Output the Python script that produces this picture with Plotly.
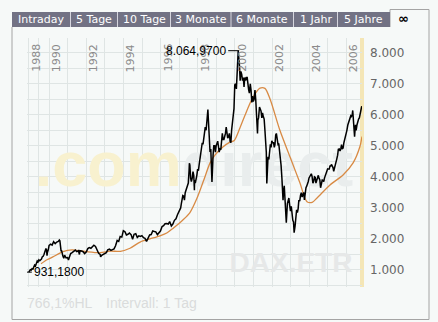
import plotly.graph_objects as go
import pandas as pd

# ---------------- data ----------------
dax_dates = [
 "1988-01-04","1988-01-29","1988-02-29","1988-03-31","1988-04-29","1988-05-31","1988-06-30","1988-07-29","1988-08-31","1988-09-30","1988-10-31","1988-11-30","1988-12-30",
 "1989-01-31","1989-02-28","1989-03-31","1989-04-28","1989-05-31","1989-06-30","1989-07-31","1989-08-31","1989-09-08","1989-09-29","1989-10-16","1989-10-31","1989-11-30","1989-12-29",
 "1990-01-31","1990-02-28","1990-03-30","1990-04-30","1990-05-31","1990-06-29","1990-07-20","1990-07-31","1990-08-24","1990-08-31","1990-09-28","1990-10-15","1990-10-31","1990-11-30","1990-12-28",
 "1991-01-16","1991-01-31","1991-02-28","1991-03-28","1991-04-30","1991-05-31","1991-06-28","1991-07-31","1991-08-19","1991-08-30","1991-09-30","1991-10-31","1991-11-29","1991-12-30",
 "1992-01-31","1992-02-28","1992-03-31","1992-04-30","1992-05-29","1992-06-30","1992-07-31","1992-08-31","1992-09-30","1992-10-09","1992-10-30","1992-11-30","1992-12-30",
 "1993-01-29","1993-02-26","1993-03-31","1993-04-30","1993-05-28","1993-06-30","1993-07-30","1993-08-31","1993-09-30","1993-10-29","1993-11-30","1993-12-30",
 "1994-01-31","1994-02-28","1994-03-31","1994-04-29","1994-05-31","1994-06-30","1994-07-29","1994-08-31","1994-09-30","1994-10-31","1994-11-30","1994-12-30",
 "1995-01-31","1995-02-28","1995-03-31","1995-04-28","1995-05-31","1995-06-30","1995-07-31","1995-08-31","1995-09-29","1995-10-31","1995-11-30","1995-12-29",
 "1996-01-31","1996-02-29","1996-03-29","1996-04-30","1996-05-31","1996-06-28","1996-07-31","1996-08-30","1996-09-30","1996-10-31","1996-11-29","1996-12-30",
 "1997-01-15","1997-01-31","1997-02-14","1997-02-28","1997-03-14","1997-03-31","1997-04-15","1997-04-30","1997-05-15","1997-05-30","1997-06-13","1997-06-30","1997-07-15","1997-07-21","1997-07-31","1997-08-15","1997-08-29","1997-09-15","1997-09-30","1997-10-15","1997-10-28","1997-10-31","1997-11-14","1997-11-28","1997-12-15","1997-12-30",
 "1998-01-15","1998-01-30","1998-02-13","1998-02-27","1998-03-13","1998-03-31","1998-04-15","1998-04-30","1998-05-15","1998-05-29","1998-06-15","1998-06-30","1998-07-20","1998-07-31","1998-08-14","1998-08-31","1998-09-15","1998-09-30","1998-10-08","1998-10-30","1998-11-13","1998-11-30","1998-12-15","1998-12-30",
 "1999-01-15","1999-01-29","1999-02-15","1999-02-26","1999-03-15","1999-03-31","1999-04-15","1999-04-30","1999-05-14","1999-05-31","1999-06-15","1999-06-30","1999-07-15","1999-07-30","1999-08-13","1999-08-31","1999-09-15","1999-09-30","1999-10-15","1999-10-29","1999-11-15","1999-11-30","1999-12-15","1999-12-30",
 "2000-01-14","2000-01-31","2000-02-15","2000-02-29","2000-03-07","2000-03-31","2000-04-14","2000-04-28","2000-05-15","2000-05-31","2000-06-15","2000-06-30","2000-07-14","2000-07-31","2000-08-15","2000-08-31","2000-09-15","2000-09-29","2000-10-13","2000-10-31","2000-11-15","2000-11-30","2000-12-15","2000-12-29",
 "2001-01-15","2001-01-31","2001-02-15","2001-02-28","2001-03-15","2001-03-22","2001-03-30","2001-04-12","2001-04-30","2001-05-15","2001-05-31","2001-06-15","2001-06-29","2001-07-13","2001-07-31","2001-08-15","2001-08-31","2001-09-11","2001-09-21","2001-09-28","2001-10-15","2001-10-31","2001-11-15","2001-11-30","2001-12-14","2001-12-28",
 "2002-01-15","2002-01-31","2002-02-15","2002-02-28","2002-03-15","2002-03-28","2002-04-15","2002-04-30","2002-05-15","2002-05-31","2002-06-14","2002-06-28","2002-07-15","2002-07-24","2002-07-31","2002-08-06","2002-08-15","2002-08-30","2002-09-13","2002-09-30","2002-10-09","2002-10-31","2002-11-15","2002-11-29","2002-12-13","2002-12-30",
 "2003-01-15","2003-01-31","2003-02-14","2003-02-28","2003-03-12","2003-03-31","2003-04-15","2003-04-30","2003-05-15","2003-05-30","2003-06-13","2003-06-30","2003-07-15","2003-07-31","2003-08-15","2003-08-29","2003-09-15","2003-09-30","2003-10-15","2003-10-31","2003-11-14","2003-11-28","2003-12-15","2003-12-30",
 "2004-01-15","2004-01-30","2004-02-13","2004-02-27","2004-03-15","2004-03-31","2004-04-15","2004-04-30","2004-05-14","2004-05-31","2004-06-15","2004-06-30","2004-07-15","2004-07-30","2004-08-13","2004-08-31","2004-09-15","2004-09-30","2004-10-15","2004-10-29","2004-11-15","2004-11-30","2004-12-15","2004-12-30",
 "2005-01-14","2005-01-31","2005-02-15","2005-02-28","2005-03-15","2005-03-31","2005-04-15","2005-04-29","2005-05-13","2005-05-31","2005-06-15","2005-06-30","2005-07-15","2005-07-29","2005-08-15","2005-08-31","2005-09-15","2005-09-30","2005-10-14","2005-10-31","2005-11-15","2005-11-30","2005-12-15","2005-12-30",
 "2006-01-13","2006-01-31","2006-02-15","2006-02-28","2006-03-15","2006-03-31","2006-04-13","2006-04-28","2006-05-08","2006-05-31","2006-06-13","2006-06-30","2006-07-14","2006-07-31","2006-08-15","2006-08-31","2006-09-15","2006-09-29","2006-10-13","2006-10-31","2006-11-06",
]
dax_close = [
 931.18,960,1010,1000,1040,1030,1110,1160,1130,1230,1290,1260,1328,
 1300,1330,1350,1420,1440,1500,1570,1640,1690,1640,1460,1560,1650,1790,
 1830,1800,1910,1850,1900,1920,1966,1940,1600,1640,1450,1380,1480,1390,1400,
 1320,1400,1530,1560,1600,1640,1590,1620,1500,1620,1610,1590,1530,1578,
 1690,1720,1700,1750,1800,1760,1640,1540,1500,1420,1470,1510,1545,
 1560,1650,1670,1630,1660,1680,1780,1950,1920,2080,2060,2266,
 2230,2130,2150,2190,2140,1990,2150,2170,2050,2100,2080,2106,
 2040,2020,1920,2010,2130,2140,2260,2240,2230,2140,2200,2254,
 2400,2430,2490,2500,2480,2560,2420,2480,2600,2650,2780,2889,
 2900,3000,3150,3240,3400,3380,3250,3490,3570,3600,3700,3800,4200,4438,4380,3950,3850,3960,4170,4050,3567,3900,3800,3900,4050,4250,
 4200,4400,4550,4700,5000,5100,5050,5200,5350,5600,5500,5900,6171,5800,5300,4800,4900,4470,3833,4700,5000,5000,4800,5002,
 5100,5150,4950,4800,4900,4880,5150,5400,5200,5200,5300,5400,5600,5300,5250,5300,5400,5150,5100,5500,5800,6000,6200,6958,
 7000,6835,7400,7644,8064.97,7600,7100,7400,7300,7100,7200,6900,7200,7100,7200,7200,6900,6800,6700,7000,6800,6400,6600,6433,
 6500,6800,6500,6200,5800,5400,5830,5900,6250,6200,6120,5900,6060,5950,5860,5500,5190,4800,3787,4300,4650,4560,4900,5050,4950,5160,
 5100,5100,4950,5040,5350,5400,5200,5040,5050,4820,4650,4380,3950,3400,3700,3250,3500,3710,3300,2770,2520,3150,3250,3320,3100,2893,
 3050,2750,2600,2550,2203,2420,2800,2940,2850,2980,3250,3220,3400,3490,3350,3480,3500,3260,3550,3650,3700,3750,3850,3965,
 4050,4060,4100,4020,3800,3860,4000,3980,3800,3920,3950,4050,3950,3900,3650,3790,3900,3890,3850,3960,4050,4130,4200,4256,
 4250,4250,4350,4350,4400,4350,4300,4180,4300,4460,4550,4590,4700,4890,4900,4830,4900,5040,4900,4930,5100,5190,5250,5408,
 5500,5670,5750,5800,5900,5970,5950,6010,6140,5690,5292,5680,5500,5680,5800,5860,5900,6000,6100,6270,6250,
]
ma_dates = [
 "1989-03-15","1989-10-15","1990-03-15","1990-10-01","1991-03-25","1991-09-01","1992-01-15","1992-10-01",
 "1993-04-15","1993-11-01","1994-05-10","1994-11-25","1995-06-05","1995-12-20","1996-05-10","1996-09-01",
 "1997-03-15","1997-08-01","1997-12-15","1998-05-01","1998-09-01","1998-12-05","1999-05-10","1999-09-25",
 "1999-12-20","2000-04-15","2000-08-28","2000-12-25","2001-05-10","2001-08-15","2001-11-25","2002-06-05",
 "2002-12-20","2003-07-05","2003-11-20","2004-03-01","2004-06-05","2005-02-15","2005-10-30","2006-05-15",
 "2006-09-25","2006-11-06",
]
ma_values = [
 1200,1330,1420,1590,1645,1620,1590,1560,
 1610,1600,1700,1900,2000,2100,2200,2340,
 2610,2850,3300,3900,4450,4700,4960,5120,
 5170,5600,6150,6570,6860,6850,6500,5500,
 4650,3800,3200,3180,3320,3740,4060,4450,
 4970,5300,
]
tab_labels = ["Intraday", "5 Tage", "10 Tage", "3 Monate", "6 Monate", "1 Jahr", "5 Jahre"]
year_ticks = list(range(1988, 2007))
y_ticks = list(range(500, 8001, 500))

# ---------------- helpers ----------------
W, H = 438, 322
L, R, T, B = 27, 362, 38, 287          # plot area in pixels
PXY = (R - L)

def dec_year(s):
    d = pd.Timestamp(s)
    start = pd.Timestamp(year=d.year, month=1, day=1)
    end = pd.Timestamp(year=d.year + 1, month=1, day=1)
    return d.year + (d - start) / (end - start)

def tpos(y):
    # chart time axis: sparse early data is compressed (index-like axis)
    return y if y >= 1990 else 1990 - (1990 - y) * 0.55

dax_x = [tpos(dec_year(d)) for d in dax_dates]
ma_x = [tpos(dec_year(d)) for d in ma_dates]
x_end = dax_x[-1]
x_start = x_end - PXY / 18.57
y_lo, y_hi = 452, 8474

def px_x(p):
    return (p - L) / (R - L)

def px_y(p):
    return (B - p) / (B - T)

def de(v, nd):
    s = f"{v:,.{nd}f}"
    return s.replace(",", "#").replace(".", ",").replace("#", ".")

vmin = min(dax_close)
vmax = max(dax_close)
i_max = dax_close.index(vmax)
hl_pct = (vmax - vmin) / vmin * 100

bg = "#f6f9f8"
fig = go.Figure()

# watermark (drawn first, under the lines)
fig.add_trace(go.Scatter(
    x=[x_start + (194 - L) / 18.57], y=[y_lo + (B - 170) / (B - T) * (y_hi - y_lo)],
    mode="text", text=["<b>.com<span style='color:#e9eded'>direct</span></b>"],
    textfont=dict(family="Liberation Sans", size=63, color="#f8f1cf"),
    textposition="middle center", hoverinfo="skip", showlegend=False))
fig.add_trace(go.Scatter(
    x=[x_start + (291 - L) / 18.57], y=[y_lo + (B - 265) / (B - T) * (y_hi - y_lo)],
    mode="text", text=["<b>DAX.ETR</b>"],
    textfont=dict(family="Liberation Sans", size=28, color="#e6e8e8"),
    textposition="middle center", hoverinfo="skip", showlegend=False))

fig.add_trace(go.Scatter(x=ma_x, y=ma_values, mode="lines", line=dict(color="#d88a44", width=1.3, shape="spline", smoothing=0.8),
                         hoverinfo="skip", showlegend=False))
fig.add_trace(go.Scatter(x=dax_x, y=dax_close, mode="lines", line=dict(color="#000000", width=1.5),
                         hoverinfo="skip", showlegend=False))

shapes = []
# yellow end line
shapes.append(dict(type="line", xref="paper", yref="paper", x0=1, x1=1, y0=0, y1=1,
                   line=dict(color="#f4e6b6", width=4), layer="between"))
# min / max markers
shapes.append(dict(type="line", xref="x", yref="y", xsizemode="pixel", xanchor=dax_x[0], x0=-5, x1=3,
                   y0=vmin, y1=vmin, line=dict(color="#000", width=1)))
shapes.append(dict(type="line", xref="x", yref="y", xsizemode="pixel", xanchor=dax_x[i_max], x0=-10, x1=1,
                   y0=vmax, y1=vmax, line=dict(color="#000", width=1)))
# frame
fc = "#a4a4a4"
shapes += [
    dict(type="line", xref="paper", yref="paper", x0=px_x(12), x1=px_x(12), y0=px_y(27), y1=px_y(319.5), line=dict(color=fc, width=1)),
    dict(type="line", xref="paper", yref="paper", x0=px_x(12), x1=px_x(429), y0=px_y(319.5), y1=px_y(319.5), line=dict(color=fc, width=1)),
    dict(type="line", xref="paper", yref="paper", x0=px_x(429), x1=px_x(429), y0=px_y(9.5), y1=px_y(319.5), line=dict(color=fc, width=1)),
    dict(type="line", xref="paper", yref="paper", x0=px_x(390), x1=px_x(429), y0=px_y(9.5), y1=px_y(9.5), line=dict(color=fc, width=1)),
    dict(type="line", xref="paper", yref="paper", x0=px_x(390), x1=px_x(390), y0=px_y(9.5), y1=px_y(27), line=dict(color=fc, width=1)),
]
# tab bar
tab_edges = [12, 70.5, 117.5, 170.5, 231, 293.5, 337.5, 390]
shapes.append(dict(type="rect", xref="paper", yref="paper", x0=px_x(12), x1=px_x(390), y0=px_y(27), y1=px_y(12),
                   fillcolor="#727284", line=dict(width=0)))
for e in tab_edges[1:-1]:
    shapes.append(dict(type="line", xref="paper", yref="paper", x0=px_x(e), x1=px_x(e), y0=px_y(27), y1=px_y(12),
                       line=dict(color="#d6d6de", width=1)))

ann = []
for i, lab in enumerate(tab_labels):
    cx = (tab_edges[i] + tab_edges[i + 1]) / 2
    ann.append(dict(xref="paper", yref="paper", x=px_x(cx), y=px_y(19.5), text=lab, showarrow=False,
                    font=dict(family="DejaVu Sans", size=11, color="#ffffff"), xanchor="center", yanchor="middle"))
ann.append(dict(xref="paper", yref="paper", x=px_x(403.5), y=px_y(18.5), text="<b>∞</b>", showarrow=False,
                font=dict(family="DejaVu Sans", size=13, color="#000000"), xanchor="center", yanchor="middle"))
# year labels (inside the plot, rotated)
for yv in year_ticks:
    if yv % 2 == 0:
        ann.append(dict(xref="x", yref="paper", x=tpos(yv), y=1, text=str(yv), textangle=-90, showarrow=False,
                        xanchor="center", yanchor="top", xshift=7, yshift=-4,
                        font=dict(family="DejaVu Sans", size=11, color="#8a8a8a")))
ann.append(dict(xref="x", yref="y", x=dax_x[0], y=vmin, text=de(vmin, 4), showarrow=False, xanchor="left", yanchor="middle",
                xshift=3, font=dict(family="Liberation Sans", size=12, color="#000")))
ann.append(dict(xref="x", yref="y", x=dax_x[i_max], y=vmax, text=de(vmax, 4), showarrow=False, xanchor="right", yanchor="middle",
                xshift=-10, font=dict(family="Liberation Sans", size=12, color="#000")))
ann.append(dict(xref="paper", yref="paper", x=px_x(25), y=px_y(303), text=de(hl_pct, 1) + "%HL", showarrow=False,
                xanchor="left", yanchor="middle", font=dict(family="Liberation Sans", size=14, color="#dadcdc")))
ann.append(dict(xref="paper", yref="paper", x=px_x(104), y=px_y(303), text="Intervall: 1 Tag", showarrow=False,
                xanchor="left", yanchor="middle", font=dict(family="Liberation Sans", size=14, color="#dadcdc")))

fig.update_layout(
    width=W, height=H, margin=dict(l=L, r=W - R, t=T, b=H - B),
    paper_bgcolor=bg, plot_bgcolor=bg,
    shapes=shapes, annotations=ann, showlegend=False,
    xaxis=dict(range=[x_start, x_end], side="top", tickvals=[tpos(y) for y in year_ticks],
               showticklabels=False, ticks="",
               showgrid=True, gridcolor="#dfe5e4", gridwidth=1, zeroline=False, showline=False, fixedrange=True),
    yaxis=dict(range=[y_lo, y_hi], side="right", tickvals=y_ticks,
               ticktext=[de(v, 0) if v % 1000 == 0 else "" for v in y_ticks],
               ticks="", ticklabelstandoff=7,
               tickfont=dict(family="DejaVu Sans", size=12, color="#666666"),
               showgrid=True, gridcolor="#dfe5e4", gridwidth=1, zeroline=False, showline=False, fixedrange=True),
)
fig.write_html("out.html")
